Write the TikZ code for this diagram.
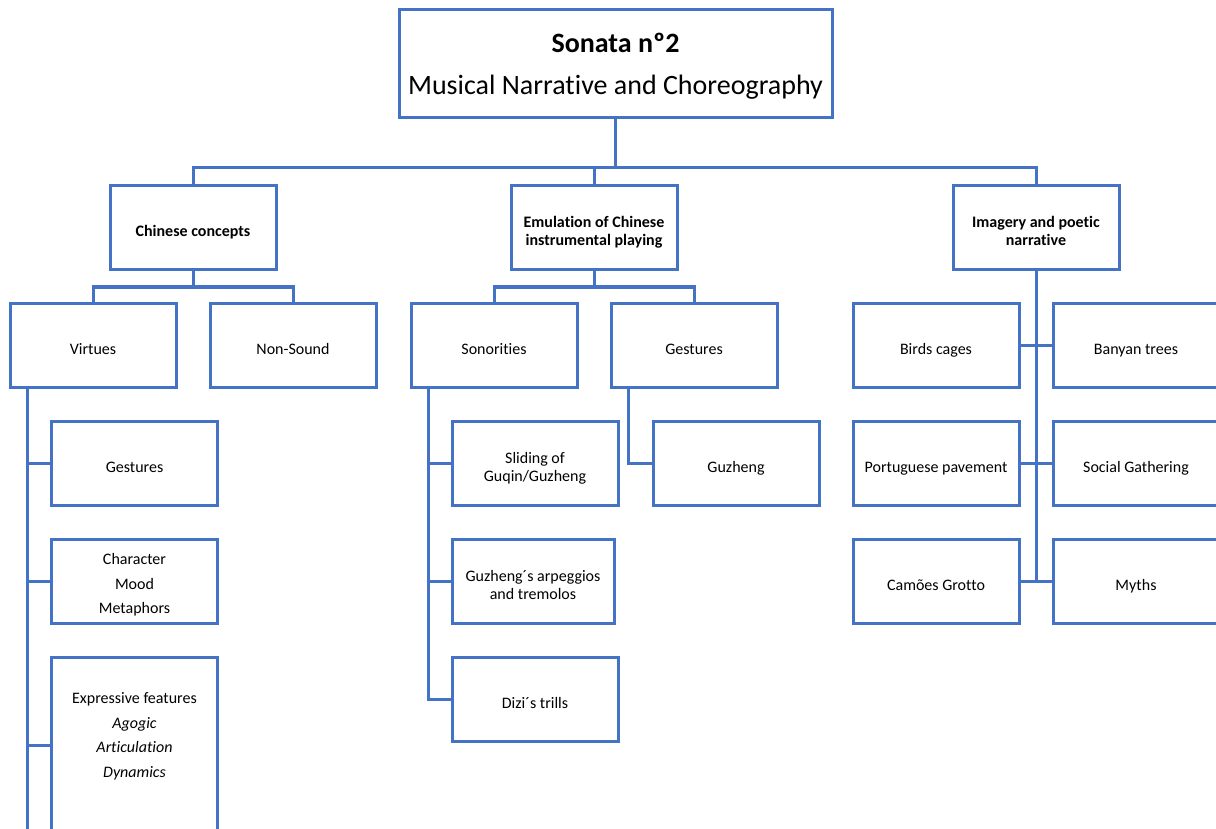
\documentclass[tikz,border=0pt]{standalone}
\usepackage{fontspec}
\setmainfont{Carlito}[Ligatures=NoCommon]
\definecolor{ob}{HTML}{4472C4}
\begin{document}
\begin{tikzpicture}[x=1pt,y=-1pt,
  box/.style={draw=ob, line width=3pt, minimum width=166pt, minimum height=84pt, inner sep=0pt, outer sep=0pt, align=center, text height=18.1pt, text depth=0pt, font=\fontsize{16}{18}\selectfont},
  headbox/.style={box, font=\bfseries\fontsize{16}{18.5}\selectfont},
  twoline/.style={text height=36.1pt},
  wide/.style={font=\fontsize{16}{24.5}\selectfont},
  conn/.style={draw=ob, line width=3pt}]
\useasboundingbox (0,0) rectangle (1216,829);
\node[box, minimum width=433pt, minimum height=108pt, text height=61.7pt, font=\fontsize{28}{42}\selectfont] (title) at (615.5,64) {\textbf{Sonata nº2}\\Musical Narrative and Choreography};
\node[headbox] (cc) at (193,227.5) {Chinese concepts};
\node[headbox, text height=36.6pt] (em) at (594,227.5) {Emulation of Chinese\\instrumental playing};
\node[headbox, text height=36.6pt] (im) at (1036,227.5) {Imagery and poetic\\narrative};
\node[box] (vir) at (93,345) {Virtues};
\node[box] (ns) at (293,345) {Non-Sound};
\node[box] (so) at (494,345) {Sonorities};
\node[box] (ge2) at (694,345) {Gestures};
\node[box] (bc) at (936,345) {Birds cages};
\node[box] (bt) at (1136,345) {Banyan trees};
\node[box] (pp) at (936,463) {Portuguese pavement};
\node[box] (sg) at (1136,463) {Social Gathering};
\node[box] (cg) at (936,581) {Camões Grotto};
\node[box] (my) at (1136,581) {Myths};
\node[box] (g1) at (134.5,463) {Gestures};
\node[box, wide, text height=65.1pt] (cmm) at (134.5,581) {Character\\Mood\\Metaphors};
\node[box, wide, minimum height=176pt, text height=64.2pt] (exp) at (134.5,745) {Expressive features\\\textit{Agogic}\\\textit{Articulation}\\\textit{Dynamics}};
\node[box, twoline] (sl) at (535,463) {Sliding of\\Guqin/Guzheng};
\node[box, twoline, minimum width=162pt] (ar) at (533,581) {Guzheng´s arpeggios\\and tremolos};
\node[box] (dz) at (535,699) {Dizi´s trills};
\node[box] (gz) at (736,463) {Guzheng};
% title bus
\coordinate (b1) at (615.5,168);
\draw[conn] (title.south) -- (b1);
\draw[conn] (cc.north) |- (b1);
\draw[conn] (em.north) |- (b1);
\draw[conn] (im.north) |- (b1);
% chinese concepts
\coordinate (c1) at (193,287);
\draw[conn] (cc.south) -- (c1);
\draw[conn] (vir.north) |- (c1);
\draw[conn] (ns.north) |- (c1);
% emulation
\coordinate (e1) at (594,287);
\draw[conn] (em.south) -- (e1);
\draw[conn] (so.north) |- (e1);
\draw[conn] (ge2.north) |- (e1);
% virtues children
\coordinate (vs) at ([xshift=17pt]vir.south west);
\coordinate (vend) at (vs |- 0,835);
\draw[conn] (vs) -- (vend);
\draw[conn] (g1.west) -| (vs);
\draw[conn] (cmm.west) -| (vs);
\draw[conn] (exp.west) -| (vs);
% sonorities children
\coordinate (ss) at ([xshift=17pt]so.south west);
\draw[conn] (sl.west) -| (ss);
\draw[conn] (ar.west) -| (ss);
\draw[conn] (dz.west) -| (ss);
% gestures children
\coordinate (gs) at ([xshift=17pt]ge2.south west);
\draw[conn] (gz.west) -| (gs);
% imagery children
\draw[conn] (im.south) -- (im.south |- cg.east);
\draw[conn] (bc.east) -- (bt.west);
\draw[conn] (pp.east) -- (sg.west);
\draw[conn] (cg.east) -- (my.west);
\end{tikzpicture}
\end{document}
